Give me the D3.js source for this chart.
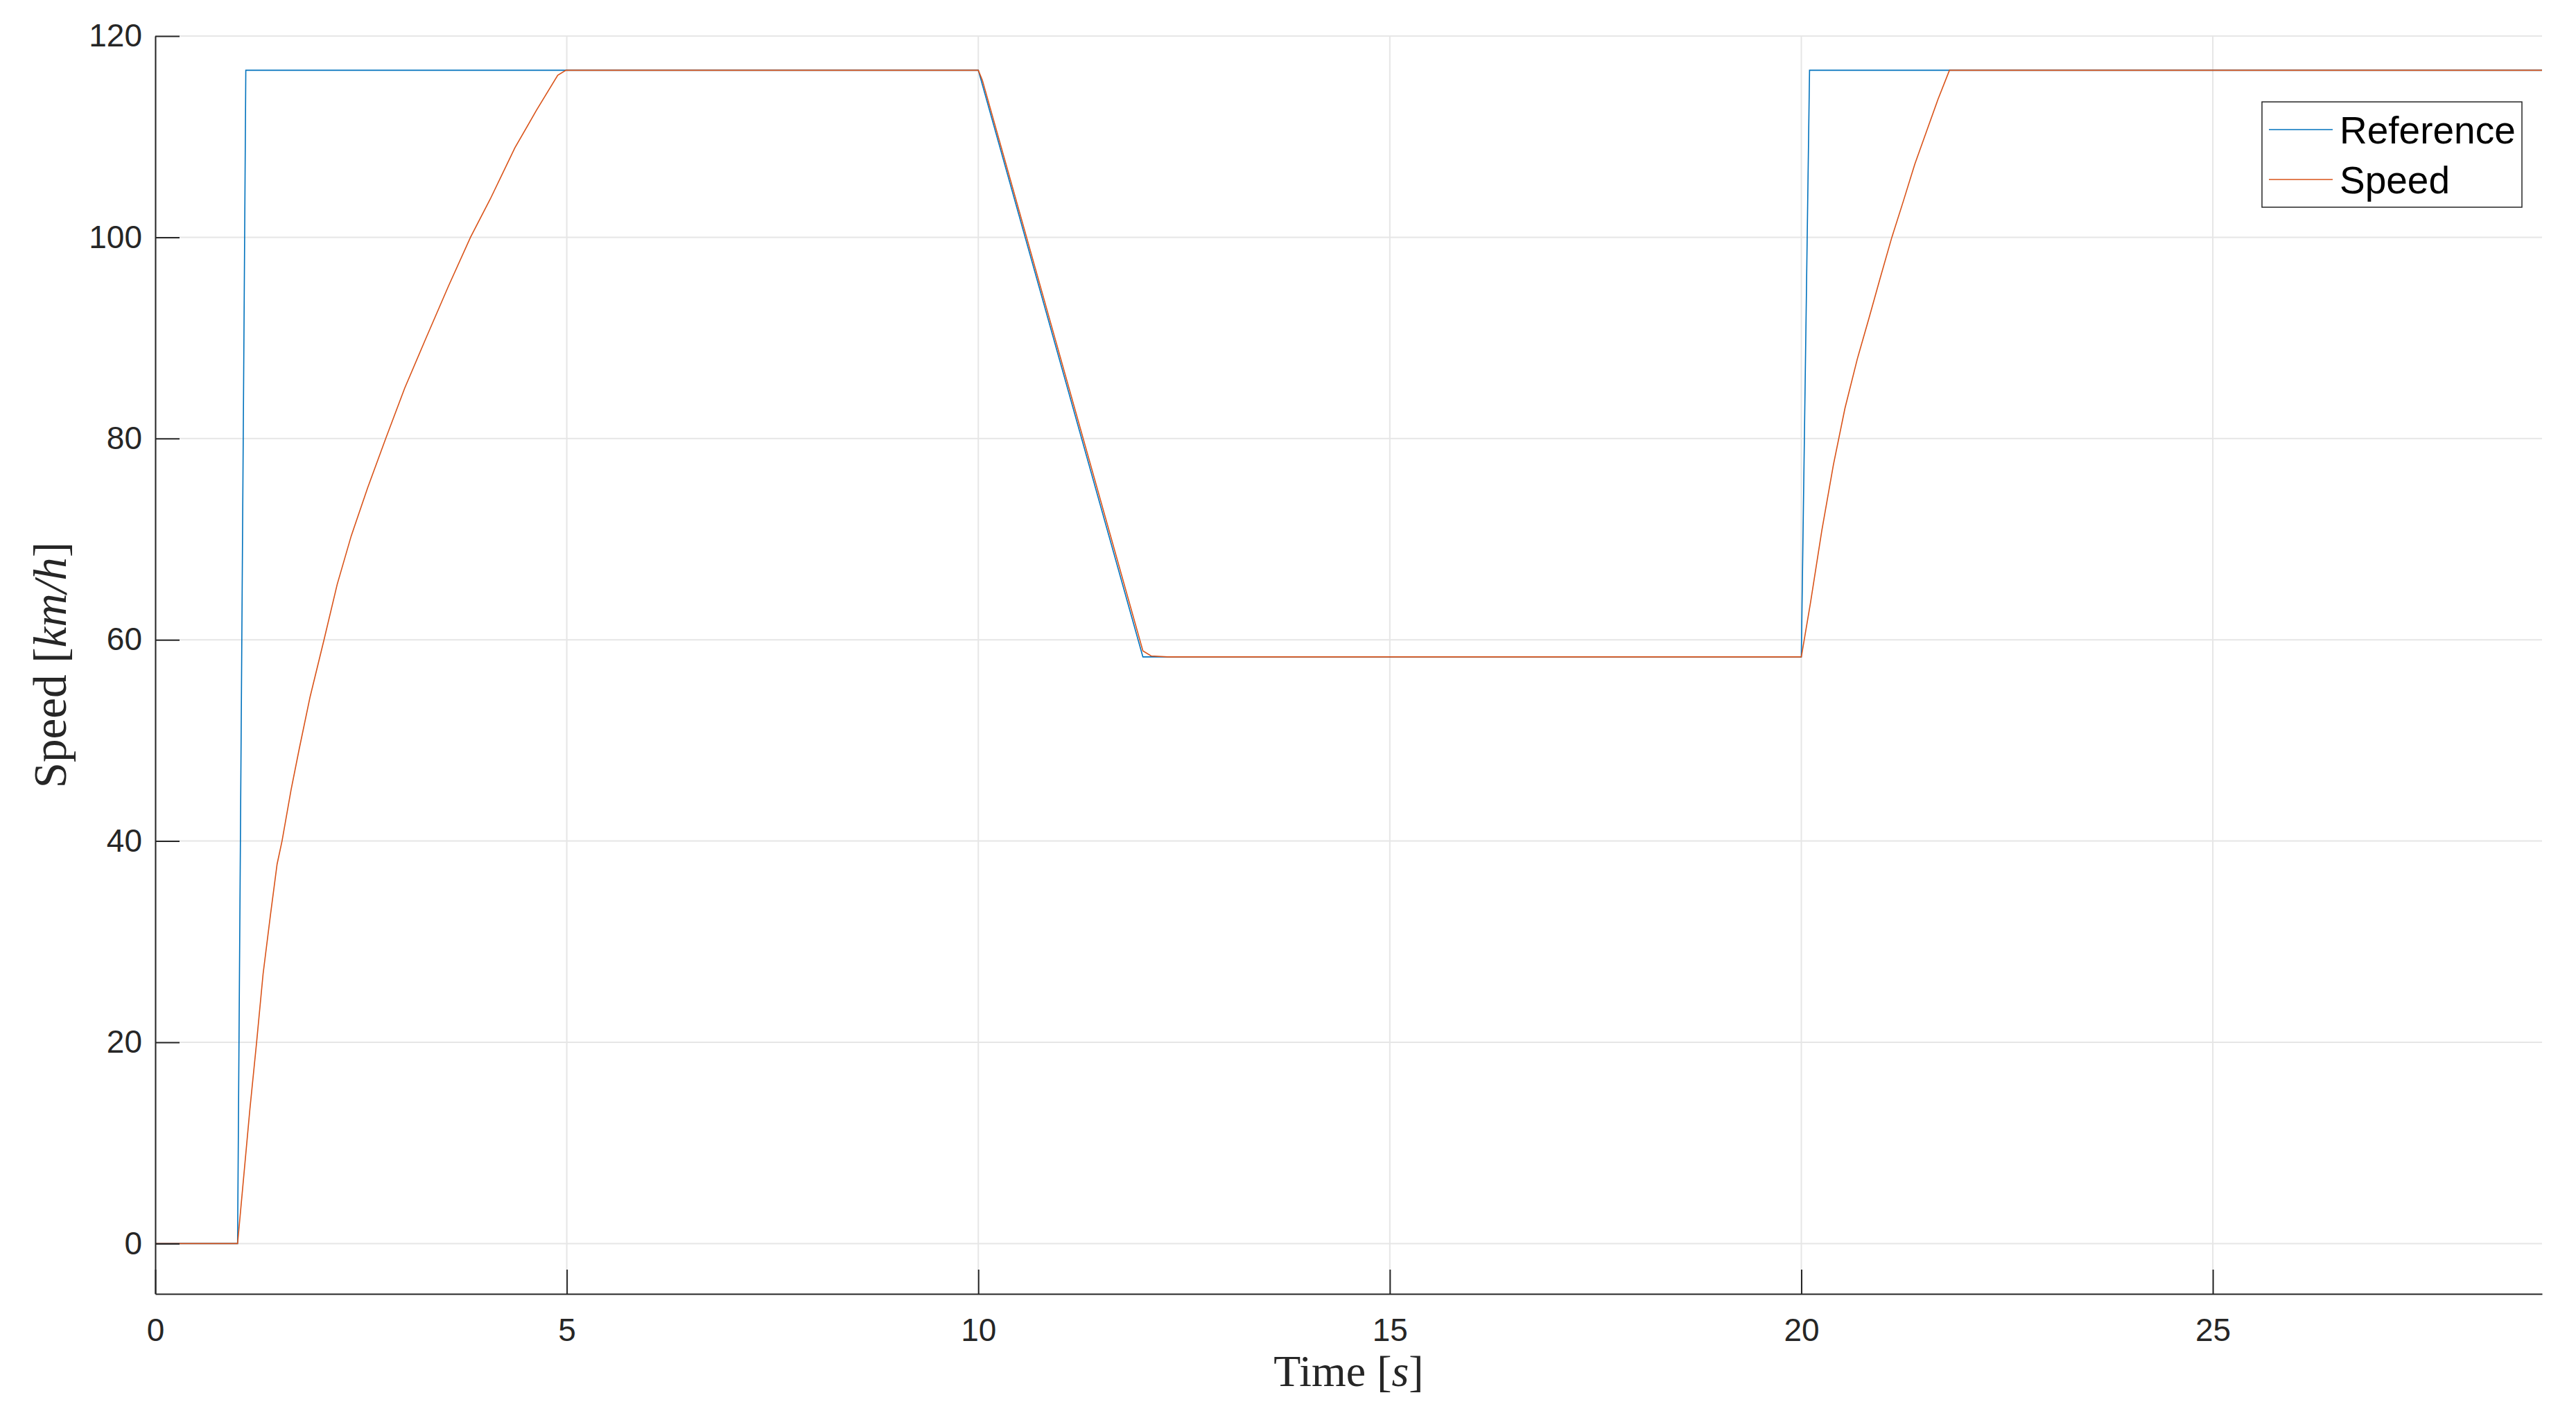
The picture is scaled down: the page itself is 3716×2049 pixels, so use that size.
<!DOCTYPE html>
<html>
<head>
<meta charset="utf-8">
<script src="https://cdn.jsdelivr.net/npm/d3@7"></script>
<style>
  body { margin: 0; background: #fff; }
  .tick text { font-family: "Liberation Sans", Arial, sans-serif; fill: #262626; }
</style>
</head>
<body>
<div id="chart"></div>
<script>
// reference signal (time in s, speed in km/h)
var refTime  = [0, 1.0, 1.1, 10.0, 12.0, 20.0, 20.1, 29];
var refSpeed = [0, 0, 116.6, 116.6, 58.3, 58.3, 116.6, 116.6];

var spdTime  = [0, 1.0, 1.15, 1.23, 1.31, 1.40, 1.48, 1.54, 1.65, 1.75, 1.88, 2.05, 2.21, 2.38, 2.58, 2.80, 3.03,
                3.28, 3.56, 3.83, 4.07, 4.37, 4.63, 4.89, 4.99,
                10.0, 10.05, 12.0, 12.1, 12.3,
                20.0, 20.11, 20.25, 20.39, 20.53, 20.68, 20.82, 20.96, 21.10, 21.24, 21.38, 21.52, 21.66, 21.80, 29];
var spdSpeed = [0, 0, 13.4, 19.9, 26.8, 32.7, 37.7, 40.0, 45.1, 49.2, 54.3, 60.0, 65.5, 70.3, 75.1, 80.0, 85.0,
                89.8, 95.1, 100.0, 103.8, 108.9, 112.6, 116.1, 116.6,
                116.6, 115.6, 58.9, 58.4, 58.3,
                58.3, 63.6, 70.9, 77.4, 83.0, 87.9, 91.9, 96.0, 100.0, 103.6, 107.3, 110.5, 113.7, 116.6, 116.6];

var xTicks = [0, 5, 10, 15, 20, 25];
var yTicks = [0, 20, 40, 60, 80, 100, 120];
var seriesNames = ["Reference", "Speed"];
var colors = ["#0072BD", "#D95319"];

var svgWidth = 3716, svgHeight = 2049,
    margin = { top: 52, right: 49, bottom: 182, left: 224 },
    width = svgWidth - margin.left - margin.right,
    height = svgHeight - margin.top - margin.bottom;

var svg = d3.select("#chart").append("svg")
    .attr("width", svgWidth)
    .attr("height", svgHeight)
    .append("g")
    .attr("transform", "translate(" + margin.left + "," + margin.top + ")");

var x = d3.scaleLinear().domain([0, 29]).range([0, width]);
var y = d3.scaleLinear().domain([-5, 120]).range([height, 0]);

// grid
svg.append("g").selectAll("line.gx")
    .data(xTicks).enter().append("line")
    .attr("x1", function (d) { return x(d); })
    .attr("x2", function (d) { return x(d); })
    .attr("y1", 0).attr("y2", height)
    .attr("stroke", "#e6e6e6").attr("stroke-width", 2);
svg.append("g").selectAll("line.gy")
    .data(yTicks).enter().append("line")
    .attr("x1", 0).attr("x2", width)
    .attr("y1", function (d) { return y(d); })
    .attr("y2", function (d) { return y(d); })
    .attr("stroke", "#e6e6e6").attr("stroke-width", 2);

// lines
var line = d3.line()
    .x(function (d) { return x(d[0]); })
    .y(function (d) { return y(d[1]); });

var refData = refTime.map(function (t, i) { return [t, refSpeed[i]]; });
var spdData = spdTime.map(function (t, i) { return [t, spdSpeed[i]]; });

svg.append("path").datum(refData)
    .attr("d", line).attr("fill", "none")
    .attr("stroke", colors[0]).attr("stroke-width", 1.6);
svg.append("path").datum(spdData)
    .attr("d", line).attr("fill", "none")
    .attr("stroke", colors[1]).attr("stroke-width", 1.6);

// axes, ticks pointing inward like matlab
var xAxis = svg.append("g")
    .attr("transform", "translate(0," + height + ")")
    .call(d3.axisBottom(x).tickValues(xTicks).tickSizeInner(-35).tickSizeOuter(0).tickPadding(35));
var yAxis = svg.append("g")
    .call(d3.axisLeft(y).tickValues(yTicks).tickSizeInner(-35).tickSizeOuter(0).tickPadding(19));

[xAxis, yAxis].forEach(function (a) {
    a.select(".domain").attr("stroke", "#262626").attr("stroke-width", 2);
    a.selectAll(".tick line").attr("stroke", "#262626").attr("stroke-width", 2);
    a.selectAll(".tick text").attr("font-size", 46).attr("fill", "#262626");
});

// axis labels
var xl = svg.append("text")
    .attr("x", width / 2)
    .attr("y", 2000 - margin.top)
    .attr("text-anchor", "middle")
    .attr("font-family", "Liberation Serif, serif")
    .attr("font-size", 64)
    .attr("fill", "#262626");
xl.append("tspan").text("Time [");
xl.append("tspan").attr("font-style", "italic").text("s");
xl.append("tspan").text("]");

var yl = svg.append("text")
    .attr("transform", "translate(" + (95 - margin.left) + "," + (height / 2) + ") rotate(-90)")
    .attr("text-anchor", "middle")
    .attr("font-family", "Liberation Serif, serif")
    .attr("font-size", 67)
    .attr("fill", "#262626");
yl.append("tspan").text("Speed [");
yl.append("tspan").attr("font-style", "italic").text("km/h");
yl.append("tspan").text("]");

// legend
var legend = svg.append("g")
    .attr("transform", "translate(" + (3263 - margin.left) + "," + (147 - margin.top) + ")");
legend.append("rect")
    .attr("width", 375).attr("height", 152)
    .attr("fill", "#fff").attr("stroke", "#262626").attr("stroke-width", 1.5);

var item = legend.selectAll(".item")
    .data(seriesNames).enter().append("g")
    .attr("transform", function (d, i) { return "translate(0," + (40 + i * 72) + ")"; });
item.append("line")
    .attr("x1", 10).attr("x2", 102)
    .attr("stroke", function (d, i) { return colors[i]; })
    .attr("stroke-width", 1.6);
item.append("text")
    .attr("x", 112).attr("dy", "0.36em")
    .attr("font-family", "Liberation Sans, Arial, sans-serif")
    .attr("font-size", 55)
    .attr("fill", "#000")
    .text(function (d) { return d; });
</script>
</body>
</html>
